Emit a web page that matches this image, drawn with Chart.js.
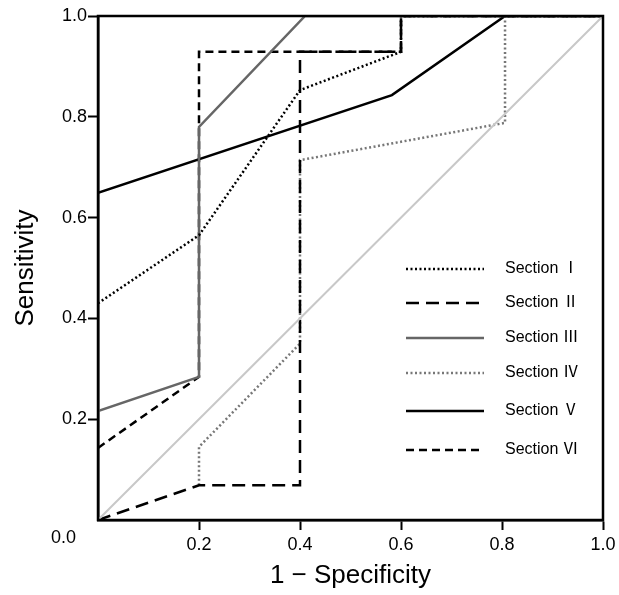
<!DOCTYPE html>
<html>
<head>
<meta charset="utf-8">
<script src="https://cdn.jsdelivr.net/npm/chart.js@4.4.1/dist/chart.umd.min.js"></script>
<style>
  html, body { margin: 0; padding: 0; background: #fff; }
  #wrap { width: 619px; height: 595px; }
</style>
</head>
<body>
<div id="wrap"><canvas id="roc"></canvas></div>
<script>
"use strict";

// ROC curves per section, (1 - specificity, sensitivity)
const sectionNames = ["Section Ⅰ", "Section Ⅱ", "Section Ⅲ", "Section Ⅳ", "Section Ⅴ", "Section Ⅵ"];

const fpr1 = [0, 0.2, 0.4, 0.6, 0.6, 1];
const tpr1 = [0.43, 0.565, 0.853, 0.929, 1, 1];

const fpr2 = [0, 0.2, 0.4, 0.4, 0.6, 0.6, 1];
const tpr2 = [0, 0.069, 0.069, 0.929, 0.929, 1, 1];

const fpr3 = [0, 0.2, 0.2, 0.41, 1];
const tpr3 = [0.216, 0.284, 0.78, 1, 1];

const fpr4 = [0.2, 0.2, 0.4, 0.4, 0.806, 0.806, 1];
const tpr4 = [0.069, 0.145, 0.35, 0.714, 0.788, 1, 1];

const fpr5 = [0, 0.582, 0.806, 1];
const tpr5 = [0.649, 0.843, 1, 1];

const fpr6 = [0, 0.2, 0.2, 0.6, 0.6, 1];
const tpr6 = [0.143, 0.284, 0.929, 0.929, 1, 1];

const refX = [0, 1];
const refY = [0, 1];

const tickValues = [0, 0.2, 0.4, 0.6, 0.8, 1.0];

const font = "'Liberation Sans', Arial, 'Noto Sans CJK JP', sans-serif";

const toPoints = (xs, ys) => xs.map((x, i) => ({ x: x, y: ys[i] }));

const lineStyles = [
    { color: "#000000", dash: [2, 2.5] },
    { color: "#000000", dash: [13, 7] },
    { color: "#666666", dash: [] },
    { color: "#777777", dash: [2, 2.5] },
    { color: "#000000", dash: [] },
    { color: "#000000", dash: [8, 5] }
];

const series = [
    toPoints(fpr1, tpr1),
    toPoints(fpr2, tpr2),
    toPoints(fpr3, tpr3),
    toPoints(fpr4, tpr4),
    toPoints(fpr5, tpr5),
    toPoints(fpr6, tpr6)
];

const datasets = [{
    label: "reference",
    data: toPoints(refX, refY),
    showLine: true,
    borderColor: "#c8c8c8",
    borderWidth: 2,
    pointRadius: 0
}];
series.forEach((pts, i) => {
    datasets.push({
        label: sectionNames[i],
        data: pts,
        showLine: true,
        borderColor: lineStyles[i].color,
        borderWidth: 2.5,
        borderDash: lineStyles[i].dash,
        pointRadius: 0
    });
});

// frame, corner "0.0" label and the in-plot legend
const extras = {
    id: "extras",
    afterDraw(chart) {
        const ctx = chart.ctx;
        const a = chart.chartArea;
        ctx.save();
        ctx.strokeStyle = "#000";
        ctx.lineWidth = 2.5;
        ctx.setLineDash([]);
        ctx.strokeRect(a.left, a.top, a.right - a.left, a.bottom - a.top);

        ctx.fillStyle = "#000";
        ctx.font = "18px " + font;
        ctx.textAlign = "right";
        ctx.textBaseline = "middle";
        ctx.fillText("0.0", a.left - 22, a.bottom + 18);

        const rows = [269, 303, 338, 373, 411, 450];
        ctx.font = "16px " + font;
        ctx.textAlign = "left";
        rows.forEach((y, i) => {
            ctx.beginPath();
            ctx.strokeStyle = lineStyles[i].color;
            ctx.lineWidth = 2.5;
            ctx.setLineDash(lineStyles[i].dash);
            ctx.moveTo(406, y);
            ctx.lineTo(484, y);
            ctx.stroke();
            ctx.fillText(sectionNames[i], 505, y);
        });
        ctx.restore();
    }
};

const axisTicks = {
    display: true,
    drawOnChartArea: false,
    drawTicks: true,
    tickLength: 10,
    tickWidth: 2,
    tickColor: (c) => (c.tick && c.tick.value === 0 ? "rgba(0,0,0,0)" : "#000")
};

new Chart(document.getElementById("roc"), {
    type: "scatter",
    data: { datasets: datasets },
    options: {
        responsive: true,
        maintainAspectRatio: false,
        animation: false,
        layout: { padding: { top: 16, right: 16, left: 0, bottom: 0 } },
        plugins: {
            legend: { display: false },
            tooltip: { enabled: false }
        },
        scales: {
            x: {
                type: "linear",
                min: 0,
                max: 1,
                afterBuildTicks: (s) => { s.ticks = tickValues.map((v) => ({ value: v })); },
                afterFit: (s) => { s.height = 75; s.paddingRight = 0; },
                grid: axisTicks,
                border: { display: true, color: "#000", width: 2.5 },
                ticks: {
                    color: "#000",
                    padding: 4,
                    font: { family: font, size: 18 },
                    callback: (v) => (v === 0 ? "" : v.toFixed(1))
                },
                title: {
                    display: true,
                    text: "1 − Specificity",
                    color: "#000",
                    font: { family: font, size: 26 },
                    padding: { top: 0, bottom: 4 }
                }
            },
            y: {
                type: "linear",
                min: 0,
                max: 1,
                afterBuildTicks: (s) => { s.ticks = tickValues.map((v) => ({ value: v })); },
                afterFit: (s) => { s.width = 98; },
                grid: axisTicks,
                border: { display: true, color: "#000", width: 2.5 },
                ticks: {
                    color: "#000",
                    padding: 1,
                    font: { family: font, size: 18 },
                    callback: (v) => (v === 0 ? "" : v.toFixed(1))
                },
                title: {
                    display: true,
                    text: "Sensitivity",
                    color: "#000",
                    font: { family: font, size: 26 },
                    padding: { top: 10, bottom: 0 }
                }
            }
        }
    },
    plugins: [extras]
});
</script>
</body>
</html>
